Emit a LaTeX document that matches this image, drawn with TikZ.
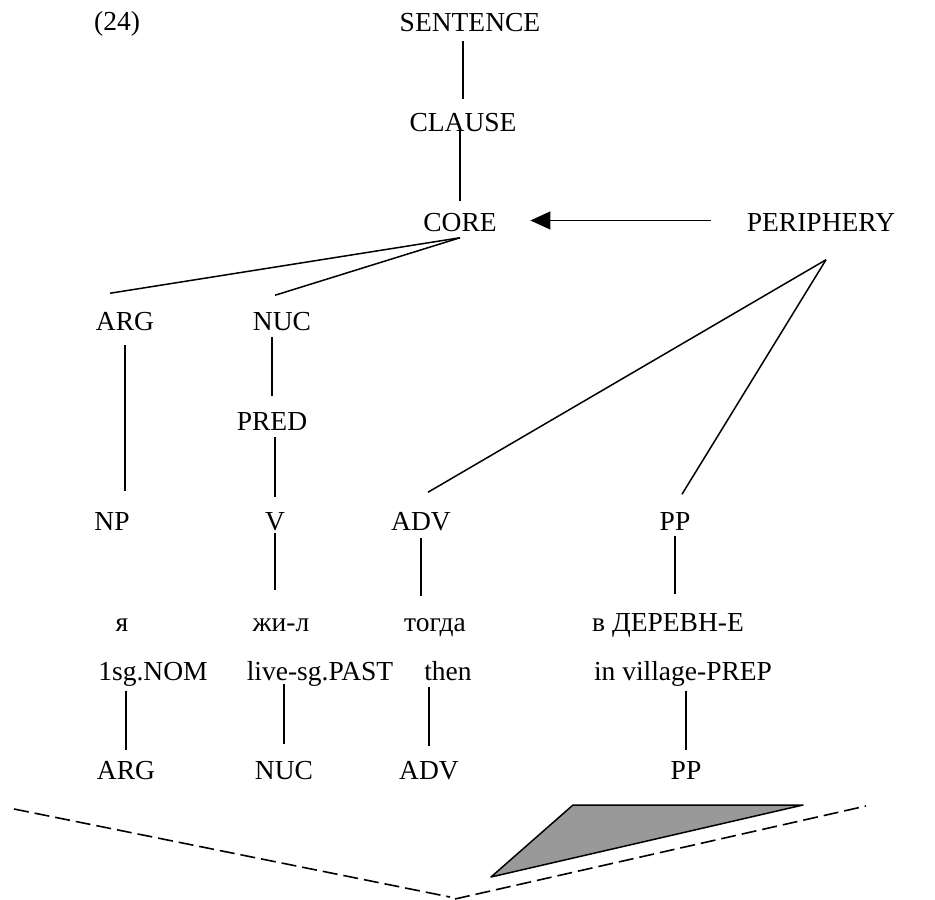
\documentclass[tikz,border=0pt]{standalone}
\usepackage{fontspec}
\setmainfont{Liberation Serif}
\usetikzlibrary{arrows.meta,calc}
\definecolor{wedgegray}{HTML}{999999}
\begin{document}
\begin{tikzpicture}[x=1pt,y=-1pt,line width=1.5pt,
  lbl/.style={anchor=base,inner sep=0pt,text height=19pt,text depth=6pt,
    font=\fontsize{27.5}{33}\selectfont},
  dashline/.style={line width=1.6pt,dash pattern=on 15pt off 6pt}]
\useasboundingbox (0,0) rectangle (935,900);

% example number
\node[lbl] (num) at (117,30) {(24)};

% layered structure
\node[lbl] (sentence) at (470,31) {SENTENCE};
\node[lbl] (clause) at (463,131) {CLAUSE};
\node[lbl] (core) at (460,231) {CORE};
\node[lbl] (peri) at (821,231) {PERIPHERY};
\node[lbl] (arg) at (125,330) {ARG};
\node[lbl] (nuc) at (282,330) {NUC};
\node[lbl] (pred) at (272,430) {PRED};
\node[lbl] (np) at (112,530) {NP};
\node[lbl] (v) at (275,530) {V};
\node[lbl] (adv) at (421,530) {ADV};
\node[lbl] (pp) at (675,530) {PP};

% words and glosses
\node[lbl] (ya) at (122,631) {я};
\node[lbl] (zhil) at (281,631) {жи-л};
\node[lbl] (togda) at (435,631) {тогда};
\node[lbl] (vder) at (668,631) {в ДЕРЕВН-Е};
\node[lbl] (nom) at (153,680) {1sg.NOM};
\node[lbl] (live) at (320,680) {live-sg.PAST};
\node[lbl] (then) at (448,680) {then};
\node[lbl] (prep) at (683,680) {in village-PREP};

% operator projection
\node[lbl] (arg2) at (126,779) {ARG};
\node[lbl] (nuc2) at (284,779) {NUC};
\node[lbl] (adv2) at (429,779) {ADV};
\node[lbl] (pp2) at (686,779) {PP};

% vertical tree branches
\draw[shorten <=3pt,shorten >=12pt] (sentence.south -| clause) -- (clause.north);
\draw[shorten <=-7pt,shorten >=10pt] (clause.south -| core) -- (core.north);
\draw[shorten <=8pt,shorten >=19pt] (arg.south) -- (np.north -| arg);
\draw[shorten <=0pt,shorten >=14pt] (nuc.south -| pred) -- (pred.north);
\draw[shorten <=0pt,shorten >=13pt] (pred.south -| v) -- (v.north);
\draw[shorten <=-4pt,shorten >=21pt] (v.south) -- (zhil.north -| v);
\draw[shorten <=1pt,shorten >=15pt] (adv.south) -- (togda.north -| adv);
\draw[shorten <=-1pt,shorten >=17pt] (pp.south) -- (vder.north -| pp);
\draw[shorten <=4pt,shorten >=9pt] (nom.south -| arg2) -- (arg2.north);
\draw[shorten <=-3pt,shorten >=15pt] (live.south -| nuc2) -- (nuc2.north);
\draw[shorten <=0pt,shorten >=13pt] (then.south -| adv2) -- (adv2.north);
\draw[shorten <=4pt,shorten >=9pt] (prep.south -| pp2) -- (pp2.north);

% diagonal branches
\draw (core.south) -- ($(arg.north)+(-15,-17)$);
\draw (core.south) -- ($(nuc.north)+(-7,-15)$);
\draw ($(peri.south)+(5,22)$) -- ($(adv.north)+(7,-18)$);
\draw ($(peri.south)+(5,22)$) -- ($(pp.north)+(7,-16)$);

% periphery modifies core
\draw[-{Triangle[length=20pt,width=18pt]}] ($(peri.west)+(-35,-4)$) -- ($(core.east)+(33,-4)$);

% lower frame
\draw[dashline] (14,809) -- (450,897);
\draw[dashline] (455,899) -- (866,806);
\draw[fill=wedgegray,line join=round] (573,805) -- (803,805) -- (491,877) -- cycle;
\end{tikzpicture}
\end{document}
